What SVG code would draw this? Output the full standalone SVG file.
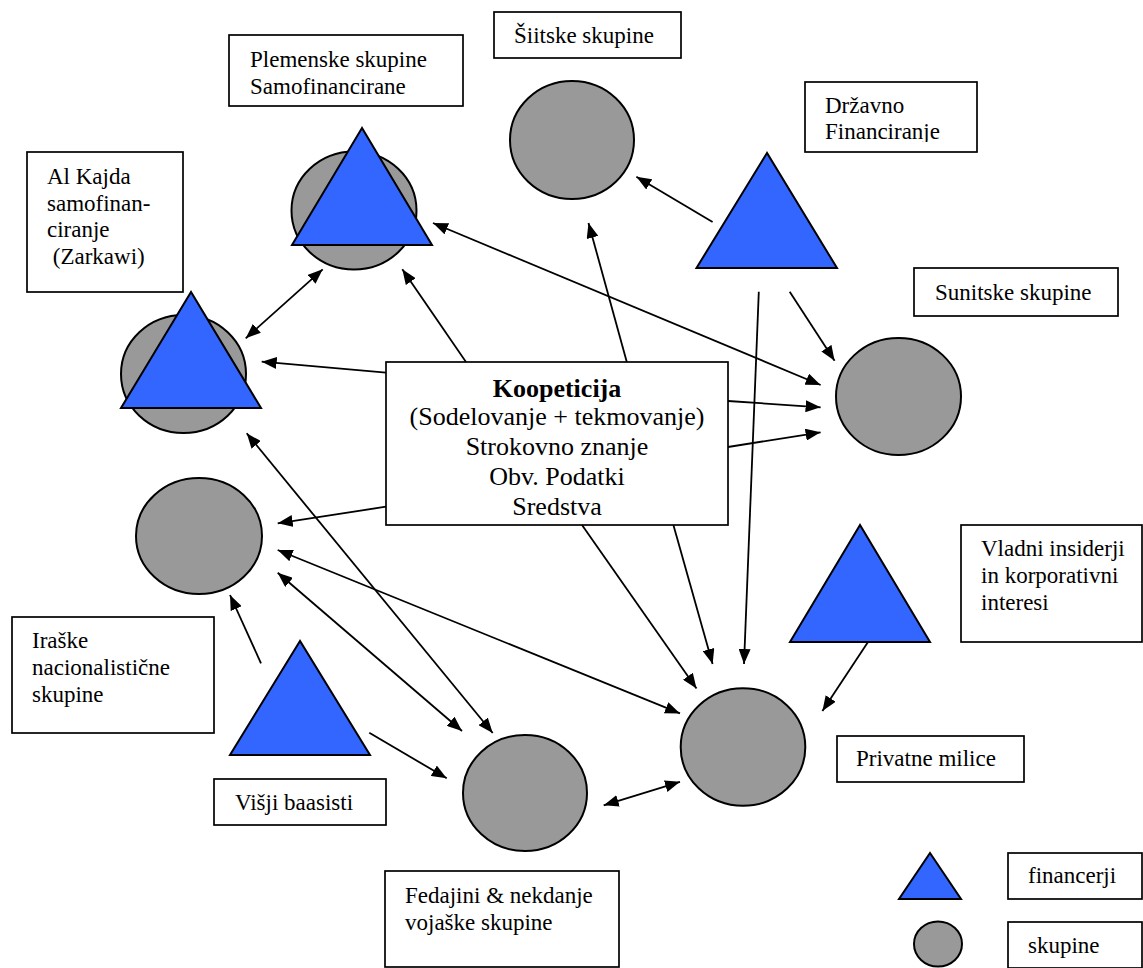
<svg xmlns="http://www.w3.org/2000/svg" width="1143" height="968" viewBox="0 0 1143 968">
<style>
.box{fill:#fff;stroke:#000;stroke-width:1.7}
.tri{fill:#3366FF;stroke:#000;stroke-width:2;stroke-linejoin:miter}
.cir{fill:#999999;stroke:#000;stroke-width:2}
text{font-family:"Liberation Serif","Times New Roman",serif;font-size:23px;fill:#000}
.ctr{font-size:26px;text-anchor:middle}
.con line{stroke:#000;stroke-width:1.8;marker-end:url(#ah)}
.con line.dbl{marker-start:url(#ah)}
</style>
<defs>
<marker id="ah" viewBox="0 0 15 12" refX="15" refY="6" markerWidth="15" markerHeight="12" markerUnits="userSpaceOnUse" orient="auto-start-reverse"><path d="M0,0 L15,6 L0,12 z" fill="#000"/></marker>
<clipPath id="clipDrz"><rect x="805" y="82" width="172" height="60"/></clipPath>
</defs>
<rect width="1143" height="968" fill="#fff"/>

<g id="plemenske">
<rect class="box" x="229" y="35" width="234" height="71"/>
<text x="250" y="67">Plemenske skupine</text>
<text x="250" y="94">Samofinancirane</text>
<ellipse class="cir" cx="354" cy="210.5" rx="62.5" ry="59"/>
<polygon class="tri" points="362,128 292,245 432,245"/>
</g>

<g id="siitske">
<rect class="box" x="494" y="12" width="187" height="46"/>
<text x="514" y="43">Šiitske skupine</text>
<ellipse class="cir" cx="572" cy="140" rx="62" ry="59"/>
</g>

<g id="drzavno">
<rect class="box" x="805" y="82" width="172" height="70"/>
<g clip-path="url(#clipDrz)">
<text x="825" y="113">Državno</text>
<text x="825" y="139">Financiranje</text>
</g>
<polygon class="tri" points="767,153 696.5,268 837,268"/>
</g>

<g id="sunitske">
<rect class="box" x="914" y="268" width="204" height="48"/>
<text x="935" y="300">Sunitske skupine</text>
<ellipse class="cir" cx="898.5" cy="396.5" rx="62.5" ry="58.5"/>
</g>

<g id="alkajda">
<rect class="box" x="27" y="152" width="156" height="140"/>
<text x="47" y="184">Al Kajda</text>
<text x="47" y="210.5">samofinan-</text>
<text x="47" y="237">ciranje</text>
<text x="47" y="263.5" xml:space="preserve"> (Zarkawi)</text>
<ellipse class="cir" cx="183.5" cy="374" rx="62.5" ry="59"/>
<polygon class="tri" points="191,292 121,408 261,408"/>
</g>

<g id="koopeticija">
<rect class="box" x="386" y="362" width="342" height="163"/>
<text class="ctr" x="557" y="397" font-weight="bold">Koopeticija</text>
<text class="ctr" x="557" y="425">(Sodelovanje + tekmovanje)</text>
<text class="ctr" x="557" y="455">Strokovno znanje</text>
<text class="ctr" x="557" y="485">Obv. Podatki</text>
<text class="ctr" x="557" y="515">Sredstva</text>
</g>

<g id="iraske">
<ellipse class="cir" cx="199" cy="536" rx="63" ry="58"/>
<rect class="box" x="12" y="617" width="202" height="116"/>
<text x="32" y="648">Iraške</text>
<text x="32" y="675">nacionalistične</text>
<text x="32" y="702">skupine</text>
</g>

<g id="visji">
<polygon class="tri" points="300,641 230,755 370,755"/>
<rect class="box" x="214" y="779" width="172" height="46"/>
<text x="235" y="810">Višji baasisti</text>
</g>

<g id="fedajini">
<ellipse class="cir" cx="525" cy="793" rx="62" ry="58"/>
<rect class="box" x="385" y="871" width="234" height="96"/>
<text x="405" y="903">Fedajini &amp; nekdanje</text>
<text x="405" y="930">vojaške skupine</text>
</g>

<g id="privatne">
<ellipse class="cir" cx="743" cy="747" rx="62.3" ry="58.8"/>
<rect class="box" x="837" y="736" width="187" height="46"/>
<text x="856" y="766">Privatne milice</text>
</g>

<g id="vladni">
<polygon class="tri" points="860,525 790,642 930,642"/>
<rect class="box" x="961" y="525" width="181" height="117"/>
<text x="981" y="556">Vladni insiderji</text>
<text x="981" y="583">in korporativni</text>
<text x="981" y="610">interesi</text>
</g>

<g id="legenda">
<polygon class="tri" points="930,853 899,899 961,899"/>
<rect class="box" x="1008" y="853" width="134" height="46"/>
<text x="1028" y="883">financerji</text>
<ellipse class="cir" cx="938" cy="944" rx="24" ry="22.5"/>
<rect class="box" x="1008" y="922" width="134" height="46"/>
<text x="1028" y="953">skupine</text>
</g>

<g id="connectors" class="con">
<line x1="712.6" y1="222" x2="636.4" y2="176.7"/>
<line x1="626.8" y1="362" x2="588.5" y2="223"/>
<line class="dbl" x1="433" y1="223" x2="820.6" y2="385"/>
<line x1="789.7" y1="291.7" x2="834.6" y2="360.7"/>
<line x1="758.8" y1="291.7" x2="744" y2="664"/>
<line x1="728" y1="401" x2="820.6" y2="407.3"/>
<line x1="728" y1="447" x2="820.6" y2="432.3"/>
<line class="dbl" x1="322.7" y1="269.3" x2="245.7" y2="338.3"/>
<line x1="466" y1="362" x2="402.3" y2="269.3"/>
<line x1="386" y1="372.7" x2="261.7" y2="361.7"/>
<line class="dbl" x1="246.7" y1="433.3" x2="492.7" y2="733"/>
<line x1="386" y1="506.7" x2="277.7" y2="523.3"/>
<line class="dbl" x1="277.7" y1="550" x2="680" y2="713.4"/>
<line class="dbl" x1="277.7" y1="572.7" x2="462" y2="731"/>
<line x1="261" y1="663.3" x2="230" y2="595"/>
<line x1="369.3" y1="732.7" x2="446.7" y2="778.3"/>
<line x1="582" y1="525" x2="696.5" y2="688.5"/>
<line x1="673.4" y1="525" x2="712.6" y2="664"/>
<line x1="868" y1="642" x2="822.4" y2="711"/>
<line class="dbl" x1="603.7" y1="805.3" x2="680" y2="781.8"/>
</g>
</svg>
